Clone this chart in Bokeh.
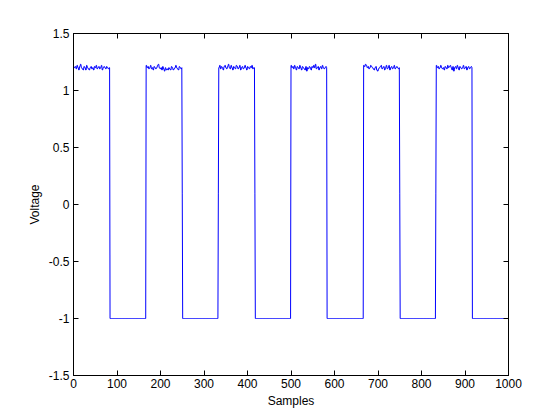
import numpy as np
from bokeh.plotting import figure
from bokeh.models import LinearAxis, FixedTicker, Range1d, CustomJSTickFormatter
from bokeh.embed import file_html
from bokeh.resources import INLINE

# ---- data ----
n_samples = 1001
low_level = -1.0
high_level = 1.20
mid_level = 0.10
# high segments (first sample, last sample)
high_starts = [0, 167, 334, 500, 667, 834]
high_ends = [83, 249, 416, 582, 749, 916]
# samples sitting half-way on an edge
mid_samples = [250, 333, 417, 750, 833]
# noise on the high level (hundredths of a volt, one value per 2 samples)
noise_0 = [1, 0, 1, -1, 2, 0, -2, 1, 3, 0, -1, -2, 1, 0, -2, 2, 0, -1, -2, 0, 1,
           -1, 0, -2, 1, 0, 2, -1, 0, 1, -1, 0, 2, -2, 0, 1, 0, -1, 1, 0, -1, 0]
noise_1 = [2, 0, 1, -1, 0, 2, -1, 0, -2, 1, 0, -1, 0, 2, 3, 0, -1, 0, -2, 1, -1,
           -3, 0, -2, -1, -2, 0, -1, -2, 1, 0, -2, -1, 0, 2, 0, -1, -2, 1, 0, -1, 0]
noise_2 = [0, 2, -1, 1, 0, -2, 1, 2, 0, -1, 1, 3, 0, -1, 2, 0, -2, 1, 0, -1, 2,
           1, -1, 0, 2, -2, 0, 1, -1, 0, 2, 0, -2, 1, 0, -1, 1, 0, 2, -1, 0, 0]
noise_3 = [2, 0, 1, -1, 2, 0, -2, 1, 0, -1, 2, 0, -2, 1, 0, -1, -2, 1, -3, 0, -1,
           1, 0, -2, 1, 0, 2, 0, 3, -1, 0, 1, -2, 0, 1, -1, 2, 0, -1, 0, 1, 0]
noise_4 = [2, 1, 3, 2, 0, 1, -1, 0, 2, 1, 0, -1, -2, 0, 1, -2, -3, -1, 0, 1, 2,
           -1, 0, 1, -2, 0, 2, -1, 0, 2, -2, 0, 1, -1, 0, 2, -1, 0, 1, 0, -1, 0]
noise_5 = [2, 0, 1, -1, 0, 2, 0, -1, 0, -2, 1, 0, -1, 2, 0, 1, 2, 0, -2, 1, -3,
           0, 1, -1, 2, 0, -2, 1, 0, -1, 0, 2, -1, 0, 1, -2, 0, 1, -1, 0, 1, 0]
noises = [noise_0, noise_1, noise_2, noise_3, noise_4, noise_5]

x_ticks = [0, 100, 200, 300, 400, 500, 600, 700, 800, 900, 1000]
x_tick_labels = ["0", "100", "200", "300", "400", "500", "600", "700", "800", "900", "1000"]
y_ticks = [-1.5, -1.0, -0.5, 0.0, 0.5, 1.0, 1.5]
y_tick_labels = ["-1.5", "-1", "-0.5", "0", "0.5", "1", "1.5"]

# ---- build the signal ----
x = np.arange(n_samples)
y = np.full(n_samples, low_level)
for s, e, nz in zip(high_starts, high_ends, noises):
    seg = np.repeat(np.array(nz, dtype=float), 2)[: e - s + 1]
    y[s:e + 1] = high_level + seg / 100.0
for m in mid_samples:
    y[m] = mid_level

FONT = "Liberation Sans"

p = figure(width=552, height=412, output_backend="svg", toolbar_location=None,
           x_range=Range1d(0, 1000), y_range=Range1d(-1.5, 1.5),
           min_border_left=73, min_border_right=44, min_border_top=33, min_border_bottom=37,
           x_axis_label="Samples", y_axis_label="Voltage")
p.background_fill_color = "white"
p.border_fill_color = "white"
p.grid.visible = False
p.outline_line_color = "black"
p.outline_line_width = 1

p.line(x, y, line_color="#0000ff", line_width=1)

def style_axis(ax, ticks, labels, show_labels=True):
    ax.ticker = FixedTicker(ticks=ticks)
    ax.major_tick_in = 5
    ax.major_tick_out = 0
    ax.minor_tick_line_color = None
    ax.axis_line_color = "black"
    ax.major_tick_line_color = "black"
    ax.major_label_text_font = FONT
    ax.major_label_text_font_size = "12px"
    ax.major_label_text_color = "black"
    ax.major_label_standoff = 4
    ax.axis_label_text_font = FONT
    ax.axis_label_text_font_size = "12px"
    ax.axis_label_text_font_style = "normal"
    ax.axis_label_text_color = "black"
    if show_labels:
        ax.major_label_overrides = {t: l for t, l in zip(ticks, labels)}
    else:
        ax.formatter = CustomJSTickFormatter(code="return '';")
        ax.major_label_standoff = 0

style_axis(p.xaxis[0], x_ticks, x_tick_labels)
style_axis(p.yaxis[0], y_ticks, y_tick_labels)
p.xaxis[0].major_label_standoff = 3
p.xaxis[0].axis_label_standoff = 3
p.yaxis[0].axis_label_standoff = 4

top_ax = LinearAxis()
style_axis(top_ax, x_ticks, x_tick_labels, show_labels=False)
p.add_layout(top_ax, "above")
right_ax = LinearAxis()
style_axis(right_ax, y_ticks, y_tick_labels, show_labels=False)
p.add_layout(right_ax, "right")

open("out.html", "w").write(file_html(p, INLINE))
